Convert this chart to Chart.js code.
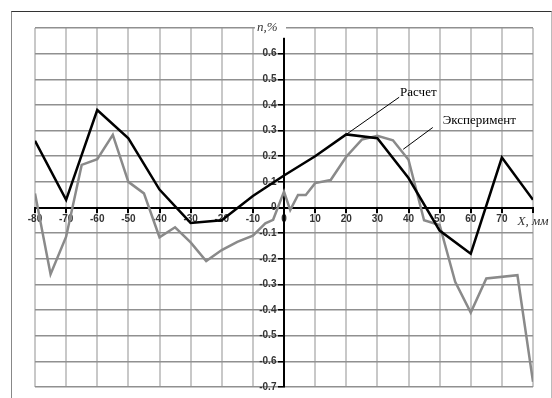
<!DOCTYPE html>
<html>
<head>
<meta charset="utf-8">
<script src="https://cdn.jsdelivr.net/npm/chart.js@4"></script>
<style>
  html, body { margin: 0; padding: 0; background: #fff; }
  #wrap { position: relative; width: 552px; height: 398px; overflow: hidden; }
  #frame {
    position: absolute; left: 11px; top: 11px; width: 539px; height: 400px;
    border-top: 1.5px solid #333; border-left: 1px solid #888; border-right: 1px solid #bbb;
  }
  canvas { position: absolute; left: 0; top: 0; }
</style>
</head>
<body>
<div id="wrap">
  <div id="frame"></div>
  <canvas id="chart" width="552" height="398"></canvas>
</div>
<script>
// calculated curve (Расчет)
const calcX = [-80, -70, -60, -50, -40, -30, -20, -10, 0, 10, 20, 30, 40, 50, 60, 70, 80];
const calcY = [0.26, 0.03, 0.38, 0.27, 0.07, -0.06, -0.05, 0.045, 0.125, 0.2, 0.285, 0.27, 0.115, -0.09, -0.18, 0.195, 0.03];

// measured curve (Эксперимент)
const expX = [-80, -75, -70, -65, -60, -55, -50, -45, -40, -35, -30, -25, -20, -15, -10, -6, -3.5, 0, 2, 4.5, 7, 10, 15, 20, 25, 30, 35, 40, 45, 50, 55, 60, 65, 75, 80];
const expY = [0.055, -0.26, -0.114, 0.166, 0.188, 0.283, 0.10, 0.055, -0.116, -0.077, -0.136, -0.209, -0.166, -0.134, -0.11, -0.062, -0.048, 0.062, -0.01, 0.049, 0.049, 0.095, 0.107, 0.198, 0.265, 0.28, 0.262, 0.186, -0.05, -0.068, -0.29, -0.41, -0.277, -0.264, -0.68];

const xTicks = [-80, -70, -60, -50, -40, -30, -20, -10, 0, 10, 20, 30, 40, 50, 60, 70, 80];
const yTicks = [-0.7, -0.6, -0.5, -0.4, -0.3, -0.2, -0.1, 0, 0.1, 0.2, 0.3, 0.4, 0.5, 0.6, 0.7];

const xTitle = 'X, мм';
const yTitle = 'n,%';

// leader labels: text, line start (on curve), line end, text anchor
const notes = [
  { text: 'Расчет', from: [20, 0.285], to: [37, 0.43], at: [37.3, 0.45] },
  { text: 'Эксперимент', from: [38.3, 0.227], to: [47.8, 0.312], at: [51, 0.338] }
];

const toPts = (xs, ys) => xs.map((x, i) => ({ x: x, y: ys[i] }));
const near = (a, b) => Math.abs(a - b) < 1e-6;
// y labels of a centred axis sit flush on the axis line, so pad them with spaces
const gap = '  \u2009';

const tickFont = { family: 'Liberation Sans, Arial, sans-serif', size: 10, weight: 'bold' };
const titleFont = { family: 'Liberation Serif, Times New Roman, serif', size: 13, style: 'italic' };

const notesPlugin = {
  id: 'notes',
  afterDatasetsDraw(chart) {
    const { ctx, scales: { x, y } } = chart;
    ctx.save();
    ctx.strokeStyle = '#000';
    ctx.lineWidth = 1;
    ctx.fillStyle = '#000';
    ctx.font = '13px "Liberation Serif", "Times New Roman", serif';
    ctx.textBaseline = 'middle';
    notes.forEach(n => {
      ctx.beginPath();
      ctx.moveTo(x.getPixelForValue(n.from[0]), y.getPixelForValue(n.from[1]));
      ctx.lineTo(x.getPixelForValue(n.to[0]), y.getPixelForValue(n.to[1]));
      ctx.stroke();
      ctx.fillText(n.text, x.getPixelForValue(n.at[0]), y.getPixelForValue(n.at[1]));
    });
    ctx.restore();
  }
};

new Chart(document.getElementById('chart'), {
  type: 'line',
  data: {
    datasets: [
      {
        label: 'Расчет',
        data: toPts(calcX, calcY),
        borderColor: '#000',
        borderWidth: 2.5,
        pointRadius: 0,
        tension: 0
      },
      {
        label: 'Эксперимент',
        data: toPts(expX, expY),
        borderColor: '#8a8a8a',
        borderWidth: 2.5,
        pointRadius: 0,
        tension: 0
      }
    ]
  },
  options: {
    responsive: false,
    animation: false,
    layout: { padding: { left: 35, top: 28, right: 19, bottom: 11 } },
    plugins: { legend: { display: false }, tooltip: { enabled: false } },
    scales: {
      x: {
        type: 'linear',
        position: { y: 0 },
        min: -80,
        max: 80,
        afterBuildTicks: s => { s.ticks = xTicks.map(v => ({ value: v })); },
        grid: {
          color: c => (c.tick && c.tick.value === 0 ? 'rgba(0,0,0,0)' : '#c8c8c8'),
          lineWidth: 2,
          tickLength: 4,
          tickColor: '#000'
        },
        border: { color: '#000', width: 2 },
        ticks: {
          padding: 2,
          color: '#333',
          maxRotation: 0,
          autoSkip: false,
          font: c => (c.tick && c.tick.value === 80 ? titleFont : tickFont),
          callback: v => (v === 80 ? xTitle : String(v))
        }
      },
      y: {
        type: 'linear',
        position: { x: 0 },
        min: -0.7,
        max: 0.7,
        afterBuildTicks: s => { s.ticks = yTicks.map(v => ({ value: v })); },
        grid: {
          color: c => (c.tick && near(c.tick.value, 0) ? 'rgba(0,0,0,0)' : '#909090'),
          lineWidth: 1.5,
          tickLength: 5,
          tickColor: '#000'
        },
        border: { color: '#000', width: 2 },
        ticks: {
          padding: 3,
          color: '#333',
          autoSkip: false,
          font: c => (c.tick && near(c.tick.value, 0.7) ? titleFont : tickFont),
          showLabelBackdrop: c => !!(c.tick && near(c.tick.value, 0.7)),
          backdropColor: '#fff',
          backdropPadding: 2,
          callback: v => (near(v, 0.7) ? yTitle + '  ' : (near(v, 0) ? '0' : v.toFixed(1)) + gap)
        }
      }
    }
  },
  plugins: [notesPlugin]
});
</script>
</body>
</html>
